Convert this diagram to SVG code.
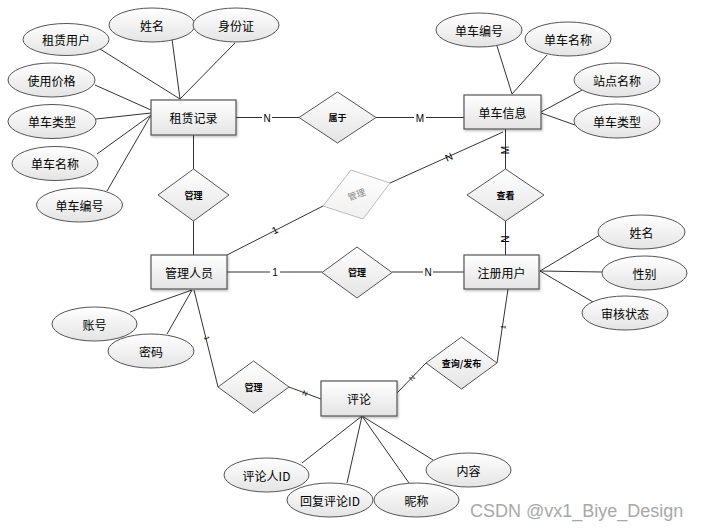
<svg xmlns="http://www.w3.org/2000/svg" width="701" height="531" viewBox="0 0 701 531">
<defs>
<linearGradient id="g" x1="0" y1="0" x2="0" y2="1"><stop offset="0" stop-color="#ffffff"/><stop offset="1" stop-color="#e4e4e4"/></linearGradient>
<linearGradient id="gl" x1="0" y1="0" x2="0" y2="1"><stop offset="0" stop-color="#ffffff"/><stop offset="1" stop-color="#f0f0f0"/></linearGradient>
<filter id="sh" x="-20%" y="-20%" width="140%" height="150%"><feDropShadow dx="1" dy="1.5" stdDeviation="1" flood-color="#000" flood-opacity="0.25"/></filter>
</defs>
<style>
text{font-family:"Noto Sans CJK SC","Liberation Sans",sans-serif;fill:#000;text-anchor:middle;dominant-baseline:central}
.ent rect{fill:url(#g);stroke:#555;stroke-width:1.2;filter:url(#sh)}
.ent text{font-size:12px}
.att ellipse{fill:url(#g);stroke:#555;stroke-width:1}
.att text{font-size:12px}
.rel polygon{fill:url(#g);stroke:#555;stroke-width:1}
.rel text{font-size:9px;font-weight:bold}
.rel.light polygon{fill:url(#gl);stroke:#bbb}
.rel.light text{fill:#888;font-weight:normal}
#connectors line,#connectors polyline{stroke:#333;stroke-width:1;fill:none}
.lb{font-size:10px;font-family:"Liberation Sans",sans-serif}
.sl{font-size:7px;font-family:"Liberation Sans",sans-serif}
</style>
<rect width="701" height="531" fill="#fff"/>
<g id="connectors">
<line x1="100" y1="49" x2="180" y2="99"/>
<line x1="172" y1="39" x2="180" y2="99"/>
<line x1="235" y1="43" x2="180" y2="99"/>
<line x1="95" y1="85" x2="151" y2="110"/>
<line x1="96" y1="119" x2="151" y2="113"/>
<line x1="97" y1="154" x2="151" y2="115"/>
<line x1="107" y1="191" x2="151" y2="115"/>
<line x1="236" y1="117.5" x2="299" y2="117.5"/>
<line x1="376" y1="117.5" x2="464" y2="117.5"/>
<line x1="193.5" y1="135" x2="193.5" y2="169"/>
<line x1="193.5" y1="221" x2="193.5" y2="255"/>
<line x1="497" y1="46" x2="512" y2="94"/>
<line x1="547" y1="55" x2="512" y2="94"/>
<line x1="582" y1="90" x2="541" y2="112"/>
<line x1="575" y1="125" x2="541" y2="113"/>
<line x1="505.5" y1="129" x2="505.5" y2="169"/>
<line x1="505.5" y1="221" x2="505.5" y2="255"/>
<line x1="227" y1="272" x2="322" y2="272"/>
<line x1="392" y1="272" x2="464" y2="272"/>
<line x1="227" y1="255" x2="323" y2="206"/>
<line x1="390" y1="183" x2="503" y2="132"/>
<line x1="540" y1="271" x2="600" y2="235"/>
<line x1="540" y1="271" x2="602" y2="272"/>
<line x1="540" y1="271" x2="593" y2="302"/>
<line x1="130" y1="312" x2="192" y2="290"/>
<line x1="167" y1="334" x2="192" y2="290"/>
<line x1="194" y1="290" x2="218" y2="387"/>
<line x1="289" y1="387" x2="321" y2="399"/>
<line x1="397" y1="393" x2="426" y2="363"/>
<line x1="497" y1="363" x2="508" y2="289"/>
<line x1="302" y1="463" x2="362" y2="416"/>
<line x1="347" y1="483" x2="362" y2="416"/>
<line x1="409" y1="483" x2="362" y2="416"/>
<line x1="433" y1="460" x2="362" y2="416"/>
<g id="labels">
<rect x="262" y="112" width="10" height="11" fill="#fff"/><text class="lb" x="267" y="118">N</text>
<rect x="414" y="112" width="12" height="11" fill="#fff"/><text class="lb" x="420" y="118">M</text>
<rect x="270" y="267" width="10" height="11" fill="#fff"/><text class="lb" x="275" y="272">1</text>
<rect x="423" y="267" width="10" height="11" fill="#fff"/><text class="lb" x="428" y="272">N</text>
<text class="lb" x="505.5" y="150" transform="rotate(-90 505.5 150)">M</text>
<text class="lb" x="505.5" y="239" transform="rotate(-90 505.5 239)">N</text>
<text class="lb" x="275" y="230" transform="rotate(-27 275 230)">1</text>
<text class="lb" x="449" y="157" transform="rotate(-24 449 157)">N</text>
<text class="sl" x="207" y="338" transform="rotate(76 207 338)">1</text>
<text class="sl" x="305" y="393" transform="rotate(21 305 393)">N</text>
<text class="sl" x="412" y="378" transform="rotate(-46 412 378)">N</text>
<text class="sl" x="503" y="327" transform="rotate(-82 503 327)">1</text>
</g>
</g>
<g id="e-zulin" class="ent"><rect x="151" y="100" width="85" height="35"/><text x="193.5" y="117.5">租赁记录</text></g>
<g id="e-danche" class="ent"><rect x="464" y="95" width="77" height="34"/><text x="502.5" y="112">单车信息</text></g>
<g id="e-guanli" class="ent"><rect x="151" y="255" width="76" height="34"/><text x="189" y="272">管理人员</text></g>
<g id="e-zhuce" class="ent"><rect x="464" y="255" width="75" height="34"/><text x="501.5" y="272">注册用户</text></g>
<g id="e-pinglun" class="ent"><rect x="321" y="381" width="76" height="35"/><text x="359" y="398.5">评论</text></g>
<g id="r-shuyu" class="rel"><polygon points="299,117.5 337.5,92 376,117.5 337.5,143"/><text x="337.5" y="117.5">属于</text></g>
<g id="r-guanli1" class="rel"><polygon points="158,195 193.5,169 229,195 193.5,221"/><text x="193.5" y="195">管理</text></g>
<g id="r-guanli2" class="rel light"><polygon points="323,206 351,170 390,183 363,219"/><text x="356.5" y="194.5" transform="rotate(-20 356.5 194.5)">管理</text></g>
<g id="r-chakan" class="rel"><polygon points="467,195 505.5,169 544,195 505.5,221"/><text x="505.5" y="195">查看</text></g>
<g id="r-guanli3" class="rel"><polygon points="322,272.5 357,247 392,272.5 357,298"/><text x="357" y="272.5">管理</text></g>
<g id="r-guanli4" class="rel"><polygon points="218,387 253.5,361 289,387 253.5,413"/><text x="253.5" y="387">管理</text></g>
<g id="r-chaxun" class="rel"><polygon points="426,363 461.5,337 497,363 461.5,389"/><text x="461.5" y="363">查询/发布</text></g>
<g id="a-zulinyonghu" class="att"><ellipse cx="66" cy="39.5" rx="43" ry="16"/><text x="66" y="39.5">租赁用户</text></g>
<g id="a-xingming1" class="att"><ellipse cx="152" cy="25" rx="43" ry="17"/><text x="152" y="25">姓名</text></g>
<g id="a-shenfenzheng" class="att"><ellipse cx="236" cy="25" rx="43" ry="17"/><text x="236" y="25">身份证</text></g>
<g id="a-shiyongjiage" class="att"><ellipse cx="51.5" cy="80" rx="43.5" ry="17"/><text x="51.5" y="80">使用价格</text></g>
<g id="a-leixing1" class="att"><ellipse cx="52" cy="121.5" rx="44" ry="17"/><text x="52" y="121.5">单车类型</text></g>
<g id="a-mingcheng1" class="att"><ellipse cx="55" cy="163.5" rx="43" ry="17"/><text x="55" y="163.5">单车名称</text></g>
<g id="a-bianhao1" class="att"><ellipse cx="79.5" cy="205" rx="43" ry="17"/><text x="79.5" y="205">单车编号</text></g>
<g id="a-bianhao2" class="att"><ellipse cx="479" cy="30" rx="43" ry="17"/><text x="479" y="30">单车编号</text></g>
<g id="a-mingcheng2" class="att"><ellipse cx="568" cy="39" rx="43" ry="17"/><text x="568" y="39">单车名称</text></g>
<g id="a-zhandian" class="att"><ellipse cx="617" cy="80" rx="43" ry="17"/><text x="617" y="80">站点名称</text></g>
<g id="a-leixing2" class="att"><ellipse cx="617" cy="121" rx="43" ry="17"/><text x="617" y="121">单车类型</text></g>
<g id="a-xingming2" class="att"><ellipse cx="641.5" cy="232" rx="43.5" ry="17"/><text x="641.5" y="232">姓名</text></g>
<g id="a-xingbie" class="att"><ellipse cx="644.5" cy="273" rx="42.5" ry="17"/><text x="644.5" y="273">性别</text></g>
<g id="a-shenhe" class="att"><ellipse cx="625" cy="313" rx="43" ry="17"/><text x="625" y="313">审核状态</text></g>
<g id="a-zhanghao" class="att"><ellipse cx="94.5" cy="324" rx="42.5" ry="17"/><text x="94.5" y="324">账号</text></g>
<g id="a-mima" class="att"><ellipse cx="151" cy="351" rx="43" ry="17"/><text x="151" y="351">密码</text></g>
<g id="a-plrid" class="att"><ellipse cx="266.5" cy="475" rx="42.5" ry="17"/><text x="266.5" y="475">评论人ID</text></g>
<g id="a-hfplid" class="att"><ellipse cx="330" cy="500" rx="43" ry="17"/><text x="330" y="500">回复评论ID</text></g>
<g id="a-nicheng" class="att"><ellipse cx="416.5" cy="500" rx="42.5" ry="17"/><text x="416.5" y="500">昵称</text></g>
<g id="a-neirong" class="att"><ellipse cx="468.5" cy="470" rx="42.5" ry="17"/><text x="468.5" y="470">内容</text></g>
<text x="470" y="511" style="font-family:'Liberation Sans',sans-serif;font-size:18px;fill:#a8a8a8;text-anchor:start">CSDN @vx1_Biye_Design</text>
</svg>
